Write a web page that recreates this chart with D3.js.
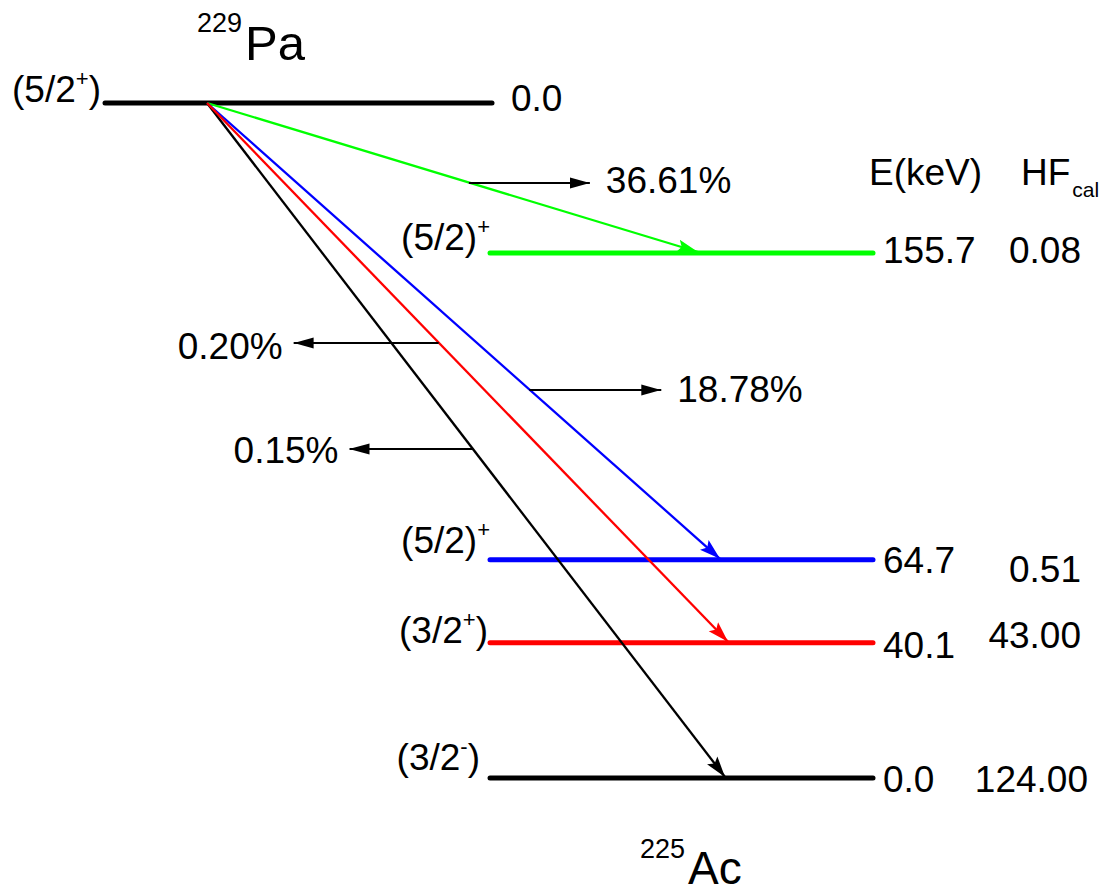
<!DOCTYPE html>
<html>
<head>
<meta charset="utf-8">
<script src="https://cdn.jsdelivr.net/npm/d3@7"></script>
<style>
  body { margin: 0; background: #fff; }
  svg text { font-family: "Liberation Sans", Arial, Helvetica, sans-serif; fill: #000; }
</style>
</head>
<body>
<svg id="chart" width="1112" height="894"></svg>
<script>
// level data (daughter 225Ac)
const levelEnergies = [155.7, 64.7, 40.1, 0.0];
const levelSpins = ["(5/2)^+", "(5/2)^+", "(3/2^+)", "(3/2^-)"];
const hfValues = ["0.08", "0.51", "43.00", "124.00"];
const intensities = ["36.61%", "18.78%", "0.20%", "0.15%"];
const levelColors = ["#00ff00", "#0000ff", "#ff0000", "#000000"];

// parent 229Pa
const parentEnergy = "0.0";
const parentSpin = "(5/2^+)";

// layout, by level: where the arrow ends, where the intensity arrow sits
const arrowEndX = [698, 720, 728, 725];
const intArrowY = [183, 390, 343, 449];
const intArrowDir = [1, 1, -1, -1];
const intArrowLen = [121, 132, 145, 123];
const intTextDy = [10, 12, 16, 14];
const eTextDy = [10, 13, 15, 14];
const hfTextDy = [10, 22, 5, 14];
const spinTextDy = [-3, -7, 0, -8];
const spinTextX = [480, 480, 488, 480];

const width = 1112, height = 894;
const svg = d3.select("#chart");

const y = d3.scaleLinear().domain([0, 155.7]).range([778, 253]);
const parentY = 103;
const origin = [207, parentY];
const levelX0 = 490, levelX1 = 873;
const font = 37;

// arrow heads, one per colour
const defs = svg.append("defs");
levelColors.forEach((c, i) => {
	defs.append("marker")
		.attr("id", "head" + i)
		.attr("markerUnits", "userSpaceOnUse")
		.attr("viewBox", "0 -7 21 14")
		.attr("markerWidth", 21)
		.attr("markerHeight", 14)
		.attr("refX", 21)
		.attr("refY", 0)
		.attr("orient", "auto")
		.append("path")
		.attr("d", "M0,-6.5L21,0L0,6.5L4,0Z")
		.attr("fill", c);
});
defs.append("marker")
	.attr("id", "smallhead")
	.attr("markerUnits", "userSpaceOnUse")
	.attr("viewBox", "0 -6 20 12")
	.attr("markerWidth", 20)
	.attr("markerHeight", 12)
	.attr("refX", 20)
	.attr("refY", 0)
	.attr("orient", "auto")
	.append("path")
	.attr("d", "M0,-5.5L20,0L0,5.5Z")
	.attr("fill", "#000");

// label with ^ superscript
function richText(g, str, size, supSize) {
	const parts = str.split(/\^(.)/);
	const t = g.append("text").attr("font-size", size);
	parts.forEach((p, k) => {
		if (p === "") return;
		if (k % 2 === 1) {
			t.append("tspan").attr("font-size", supSize).attr("dy", -size * 0.42).text(p);
		} else {
			const ts = t.append("tspan").text(p);
			if (k > 0) ts.attr("dy", size * 0.42);
		}
	});
	return t;
}

// parent level
svg.append("line")
	.attr("x1", 105).attr("x2", 492)
	.attr("y1", parentY).attr("y2", parentY)
	.attr("stroke", "#000").attr("stroke-width", 5).attr("stroke-linecap", "round");
richText(svg, parentSpin, font, 22)
	.attr("x", 101).attr("y", parentY - 1).attr("text-anchor", "end");
svg.append("text").attr("font-size", font)
	.attr("x", 511).attr("y", parentY + 8).text(parentEnergy);

// nucleus names
const pa = svg.append("text").attr("x", 197).attr("y", 60);
pa.append("tspan").attr("font-size", 27).attr("dy", -28).text("229");
pa.append("tspan").attr("font-size", 49).attr("dx", 3).attr("dy", 28).text("Pa");
const ac = svg.append("text").attr("x", 640).attr("y", 884);
ac.append("tspan").attr("font-size", 27).attr("dy", -26).text("225");
ac.append("tspan").attr("font-size", 46).attr("dx", 3).attr("dy", 26).text("Ac");

// column heads
svg.append("text").attr("font-size", font).attr("x", 869).attr("y", 185).text("E(keV)");
const hf = svg.append("text").attr("x", 1021).attr("y", 185);
hf.append("tspan").attr("font-size", font).text("HF");
hf.append("tspan").attr("font-size", 21).attr("dy", 12).attr("dx", 2).text("cal");

// daughter levels
const lev = svg.append("g").selectAll("g").data(levelEnergies).join("g");
lev.append("line")
	.attr("x1", levelX0).attr("x2", levelX1)
	.attr("y1", d => y(d)).attr("y2", d => y(d))
	.attr("stroke", (d, i) => levelColors[i])
	.attr("stroke-width", 5).attr("stroke-linecap", "round");
lev.append("text").attr("font-size", font)
	.attr("x", levelX1 + 10)
	.attr("y", (d, i) => y(d) + eTextDy[i])
	.text(d => d.toFixed(1));
lev.append("text").attr("font-size", font)
	.attr("text-anchor", "end")
	.attr("x", (d, i) => i === 3 ? 1088 : 1081)
	.attr("y", (d, i) => y(d) + hfTextDy[i])
	.text((d, i) => hfValues[i]);
lev.each(function (d, i) {
	const sup = levelSpins[i].endsWith(")") ? 0 : 1;
	richText(d3.select(this), levelSpins[i], font, 22)
		.attr("x", spinTextX[i] + (sup ? 10 : 0))
		.attr("y", y(d) + spinTextDy[i])
		.attr("text-anchor", "end");
});

// alpha transitions, drawn over the levels
const order = [0, 1, 3, 2];
svg.append("g").selectAll("line").data(order).join("line")
	.attr("x1", origin[0]).attr("y1", origin[1])
	.attr("x2", i => arrowEndX[i]).attr("y2", i => y(levelEnergies[i]) - 1)
	.attr("stroke", i => levelColors[i]).attr("stroke-width", 2.3)
	.attr("marker-end", i => `url(#head${i})`);

// intensity arrows
const ia = svg.append("g").selectAll("g").data(intensities).join("g");
function xOnLine(i, yy) {
	const y1 = y(levelEnergies[i]);
	return origin[0] + (yy - origin[1]) / (y1 - origin[1]) * (arrowEndX[i] - origin[0]);
}
ia.append("line")
	.attr("x1", (d, i) => xOnLine(i, intArrowY[i]))
	.attr("x2", (d, i) => xOnLine(i, intArrowY[i]) + intArrowDir[i] * intArrowLen[i])
	.attr("y1", (d, i) => intArrowY[i]).attr("y2", (d, i) => intArrowY[i])
	.attr("stroke", "#000").attr("stroke-width", 1.8)
	.attr("marker-end", "url(#smallhead)");
ia.append("text").attr("font-size", font)
	.attr("text-anchor", (d, i) => intArrowDir[i] > 0 ? "start" : "end")
	.attr("x", (d, i) => xOnLine(i, intArrowY[i]) + intArrowDir[i] * (intArrowLen[i] + (intArrowDir[i] > 0 ? 16 : 11)))
	.attr("y", (d, i) => intArrowY[i] + intTextDy[i])
	.text(d => d);
</script>
</body>
</html>
